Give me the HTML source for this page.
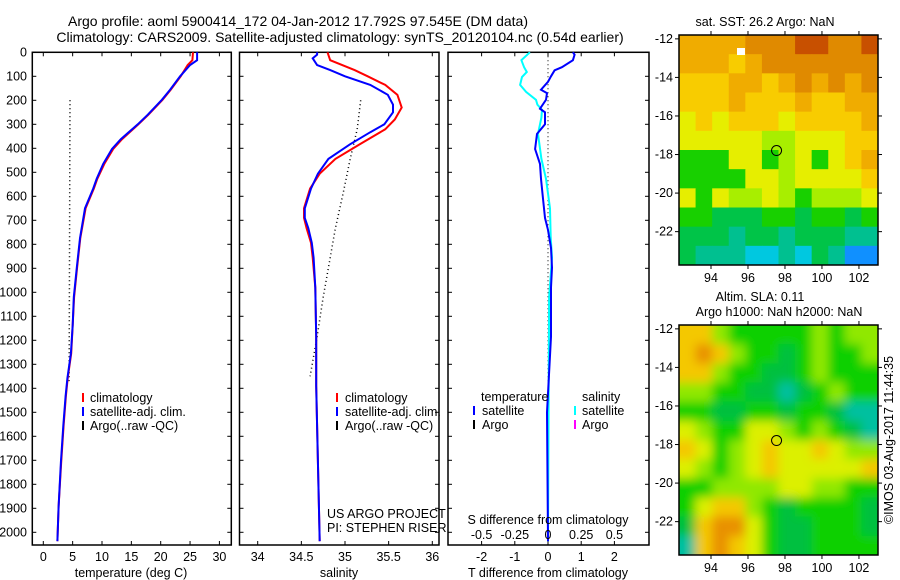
<!DOCTYPE html>
<html><head><meta charset="utf-8">
<style>
html,body{margin:0;padding:0;background:#fff;}
svg{display:block;font-family:"Liberation Sans",sans-serif;}
text{font-size:12.5px;fill:#000;}
text.ttl{font-size:14px;}
</style></head>
<body>
<svg id="c" width="900" height="580" viewBox="0 0 900 580">
<text class="ttl" x="298" y="26" text-anchor="middle">Argo profile: aoml 5900414_172 04-Jan-2012 17.792S 97.545E (DM data)</text>
<text class="ttl" x="340" y="42" text-anchor="middle">Climatology: CARS2009. Satellite-adjusted climatology: synTS_20120104.nc (0.54d earlier)</text>
<g id="p1"></g>
<g id="p2"></g>
<g id="p3"></g>
<g id="m1"></g>
<g id="m2"></g>
<text transform="translate(893,440) rotate(-90)" text-anchor="middle">©IMOS 03-Aug-2017 11:44:35</text>
<defs><filter id="blur" x="0" y="0" width="1" height="1"><feGaussianBlur stdDeviation="5"/></filter>
<clipPath id="cm2"><rect x="679" y="325" width="199" height="230"/></clipPath></defs>
</svg>
<script>
// ---- data ----
const tDepth=[0,33,53,100,156,198,260,300,362,403,465,527,568,650,774,897,1020,1136,1255,1358,1432,1556,1708,1893,2037];
const tSat=[26.2,26.2,25.0,23.3,21.6,20.2,17.8,16.1,13.2,11.7,10.2,9.1,8.5,7.1,6.25,5.7,5.2,5.0,4.7,4.1,3.8,3.4,3.0,2.6,2.4];
const tClim=[25.5,25.4,24.6,23.4,21.7,20.3,17.9,16.2,13.4,11.9,10.4,9.2,8.6,7.2,6.3,5.75,5.25,5.0,4.75,4.15,3.85,3.45,3.05,2.6,2.4];
const argoTDepth=[200,600,1000,1370];
const argoT=[4.55,4.5,4.45,4.4];
const sDepth=[0,10,25,53,74,100,136,177,218,250,300,333,383,444,506,568,650,690,733,794,856,980,1185,1390,2037];
const sSat=[34.68,34.68,34.63,34.68,34.83,35.0,35.29,35.49,35.55,35.55,35.45,35.29,35.06,34.81,34.69,34.61,34.54,34.54,34.58,34.62,34.64,34.66,34.67,34.67,34.71];
const sClimDepth=[0,33,74,100,136,177,230,280,321,383,444,506,568,650,690,733,794,856,980,1185,1390,2037];
const sClim=[34.8,34.83,35.11,35.26,35.46,35.6,35.65,35.57,35.46,35.17,34.89,34.71,34.6,34.53,34.53,34.56,34.61,34.63,34.66,34.67,34.67,34.71];
const argoSDepth=[200,321,444,584,733,856,1020,1185,1350];
const argoS=[35.18,35.14,35.06,34.98,34.89,34.83,34.75,34.68,34.6];
const dTDepth=[0,10,33,62,75,100,123,156,170,198,235,250,300,340,403,465,527,610,690,740,815,897,980,1185,1500,2037];
const dT=[0.75,0.8,0.75,0.42,0.2,0.09,0,-0.21,-0.03,-0.06,-0.24,-0.09,-0.09,-0.33,-0.39,-0.24,-0.21,-0.15,-0.09,0,0.09,0.12,0.09,0.09,-0.03,0];
const dSDepth=[0,33,62,82,103,136,165,198,218,240,272,300,340,444,527,650,770,856,1020,2037];
const dS=[-0.136,-0.2,-0.18,-0.16,-0.196,-0.21,-0.165,-0.09,-0.08,-0.045,-0.05,-0.06,-0.075,-0.05,-0.015,0.015,0.02,0.03,0.008,0];
const depthTicks=[0,100,200,300,400,500,600,700,800,900,1000,1100,1200,1300,1400,1500,1600,1700,1800,1900,2000];
const tTicks=[0,5,10,15,20,25,30];
const sTicks=[34,34.5,35,35.5,36];
const sTickLabels=['34','34.5','35','35.5','36'];
const dTTicks=[-2,-1,0,1,2];
const dSTicks=[-0.5,-0.25,0,0.25,0.5];
const latTicks=[-12,-14,-16,-18,-20,-22];
const lonTicks=[94,96,98,100,102];
const sstGrid=["ooooOOORROOR","oooYoOOOOOOO","YYYooYoOoOoO","YYYoYYYoYYoo","yYyYYYyYYYYo","yyyyyggyyyYY","GGGyyGgyGyYo","GGGGyygyyyyY","yGyggygGgggy","GGEEEGGEGGEG","EEETEETEEETT","ETTTCCTCETBB"];
const slaGrid=["YYgGGGGGgGgg","YOYgGGEGgGGg","YYgGGEEGgGGG","ggGGEETEGgGG","GGEEGGEGGETT","ygGGyygGgGET","YyGgyYyyYygg","ygGgyYyyyyyY","GGggggyyggGG","GyYYgGEGGGGE","EYOOyGEEGGGE","TYOYyGEEGGGG"];
const argoLon=97.545, argoLat=-17.792;
// ---- helpers ----
const NS='http://www.w3.org/2000/svg';
function mk(parent,tag,attrs){const e=document.createElementNS(NS,tag);for(const k in attrs)e.setAttribute(k,attrs[k]);parent.appendChild(e);return e;}
const Y0=52.3, PXD=0.24, YB=545;
const yD=d=>Y0+d*PXD;
function panel(g,x0,x1){
  const r=mk(g,'rect',{x:x0,y:Y0,width:x1-x0,height:YB-Y0,fill:'none',stroke:'#000','stroke-width':1.5});
  
  
  depthTicks.forEach(d=>{const y=yD(d);
    mk(g,'line',{x1:x0,x2:x0+4,y1:y,y2:y,stroke:'#000'});
    mk(g,'line',{x1:x1-4,x2:x1,y1:y,y2:y,stroke:'#000'});});
}
function xticks(g,vals,fx){vals.forEach(v=>{const x=fx(v);
  mk(g,'line',{x1:x,x2:x,y1:YB,y2:YB-4,stroke:'#000'});
  mk(g,'line',{x1:x,x2:x,y1:Y0,y2:Y0+4,stroke:'#000'});});}
function line(g,ds,vs,fx,color,name,w){
  const pts=ds.map((d,i)=>fx(vs[i]).toFixed(1)+','+yD(d).toFixed(1)).join(' ');
  const p=mk(g,'polyline',{points:pts,fill:'none',stroke:color,'stroke-width':w||2,'stroke-dasharray':color==='#000'?'1,3':'none'});
  
  
}
function txt(g,x,y,s,anchor,name){const t=mk(g,'text',{x:x,y:y,'text-anchor':anchor||'start'});t.textContent=s;
  
  return t;}
function legBar(g,x,y,c){mk(g,'line',{x1:x,x2:x,y1:y-10,y2:y-1,stroke:c,'stroke-width':2});}
// ---- panel 1: temperature ----
const p1=document.getElementById('p1');
const fxT=v=>43.3+v*5.87;
panel(p1,32.3,231.3); xticks(p1,tTicks,fxT);
depthTicks.forEach(d=>txt(p1,27,yD(d)+4,String(d),'end','y-tick-label'));
tTicks.forEach(v=>txt(p1,fxT(v),561,String(v),'middle','x-tick-label'));
txt(p1,131,577,'temperature (deg C)','middle','x-axis-title');
line(p1,argoTDepth,argoT,fxT,'#000','argo-temperature-line',1.5);
line(p1,tDepth,tClim,fxT,'#f00','climatology-temperature-line');
line(p1,tDepth,tSat,fxT,'#00f','satellite-temperature-line');
legBar(p1,83,403,'#f00');legBar(p1,83,417,'#00f');legBar(p1,83,431,'#000');
txt(p1,90,402,'climatology','start','legend-climatology');
txt(p1,90,416,'satellite-adj. clim.','start','legend-satellite');
txt(p1,90,430,'Argo(..raw -QC)','start','legend-argo');
// ---- panel 2: salinity ----
const p2=document.getElementById('p2');
const fxS=v=>257.7+(v-34)*87.3;
panel(p2,239.5,439); xticks(p2,sTicks,fxS);
sTicks.forEach((v,i)=>txt(p2,fxS(v),561,sTickLabels[i],'middle','x-tick-label'));
txt(p2,339,577,'salinity','middle','x-axis-title');
line(p2,argoSDepth,argoS,fxS,'#000','argo-salinity-line',1.5);
line(p2,sClimDepth,sClim,fxS,'#f00','climatology-salinity-line');
line(p2,sDepth,sSat,fxS,'#00f','satellite-salinity-line');
legBar(p2,337,403,'#f00');legBar(p2,337,417,'#00f');legBar(p2,337,431,'#000');
txt(p2,345,402,'climatology','start','legend-climatology');
txt(p2,345,416,'satellite-adj. clim.','start','legend-satellite');
txt(p2,345,430,'Argo(..raw -QC)','start','legend-argo');
txt(p2,327,518,'US ARGO PROJECT','start','project-label');
txt(p2,327,532,'PI: STEPHEN RISER','start','pi-label');
// ---- panel 3: differences ----
const p3=document.getElementById('p3');
const fxdT=v=>548+v*33.2, fxdS=v=>548+v*132.8;
panel(p3,448,649); xticks(p3,dTTicks,fxdT);
mk(p3,'line',{x1:548,x2:548,y1:Y0,y2:YB,stroke:'#000','stroke-dasharray':'1,3'});
line(p3,dSDepth,dS,fxdS,'#0ff','salinity-difference-line');
line(p3,dTDepth,dT,fxdT,'#00f','temperature-difference-line');
dTTicks.forEach(v=>txt(p3,fxdT(v),561,String(v),'middle','t-tick-label'));
dSTicks.forEach(v=>txt(p3,fxdS(v),539,String(v),'middle','s-tick-label'));
txt(p3,548,524,'S difference from climatology','middle','s-axis-title');
txt(p3,548,577,'T difference from climatology','middle','t-axis-title');
txt(p3,481,401,'temperature','start','legend-temperature-header');
txt(p3,482,415,'satellite','start','legend-t-satellite');
txt(p3,482,429,'Argo','start','legend-t-argo');
txt(p3,582,401,'salinity','start','legend-salinity-header');
txt(p3,582,415,'satellite','start','legend-s-satellite');
txt(p3,582,429,'Argo','start','legend-s-argo');
legBar(p3,474,416,'#00f');legBar(p3,474,430,'#000');legBar(p3,575,416,'#0ff');legBar(p3,575,430,'#f0f');
// ---- maps ----
const sstCol={R:'#c85000',O:'#e08a00',o:'#f0ac00',Y:'#f8cc00',y:'#e6ee00',g:'#a8ee00',G:'#18d000',E:'#00c448',T:'#00c090',C:'#00c8e0',B:'#1090ff'};
const slaCol={Y:'#f4c800',O:'#e89000',y:'#dcf000',g:'#90e800',G:'#10d000',E:'#00c040',T:'#00c0a0'};
function map(id,top,grid,cols,blur,titles){
  const g=document.getElementById(id);
  const x0=679,x1=878,y0=top,y1=top+230;
  const lonL=92.27,lonR=103.03,latT=-11.8,latB=-23.73;
  const fx=v=>x0+(v-lonL)/(lonR-lonL)*(x1-x0), fy=v=>y0+(latT-v)/(latT-latB)*(y1-y0);
  const cg=mk(g,'g',blur?{filter:'url(#blur)','clip-path':'url(#cm2)'}:{});
  const nr=grid.length,nc=grid[0].length,cw=(x1-x0)/nc,ch=(y1-y0)/nr;
  const pad=blur?12:0;
  grid.forEach((row,r)=>{[...row].forEach((k,c)=>{
    let x=x0+c*cw,y=y0+r*ch,w=cw+0.5,h=ch+0.5;
    if(blur){if(c===0){x-=pad;w+=pad;}if(c===nc-1)w+=pad;if(r===0){y-=pad;h+=pad;}if(r===nr-1)h+=pad;}
    mk(cg,'rect',{x:x,y:y,width:w,height:h,fill:cols[k]});});});
  mk(g,'rect',{x:x0,y:y0,width:x1-x0,height:y1-y0,fill:'none',stroke:'#000','stroke-width':1.5});
  latTicks.forEach(v=>{const y=fy(v);mk(g,'line',{x1:x0-4,x2:x0,y1:y,y2:y,stroke:'#000'});mk(g,'line',{x1:x1,x2:x1+4,y1:y,y2:y,stroke:'#000'});
    txt(g,673,y+4,String(v),'end','lat-tick-label');});
  lonTicks.forEach(v=>{const x=fx(v);mk(g,'line',{x1:x,x2:x,y1:y1,y2:y1+4,stroke:'#000'});mk(g,'line',{x1:x,x2:x,y1:y0-4,y2:y0,stroke:'#000'});
    txt(g,x,y1+17,String(v),'middle','lon-tick-label');});
  const c=mk(g,'circle',{cx:fx(argoLon),cy:fy(argoLat),r:5,fill:'none',stroke:'#000','stroke-width':1});
  
  
  titles.forEach((t,i)=>txt(g,t[1],t[2],t[0],'middle','map-title'));
}
map('m1',35,sstGrid,sstCol,false,[['sat. SST: 26.2 Argo: NaN',765,26]]);
mk(document.getElementById('m1'),'rect',{x:737,y:48,width:8,height:7,fill:'#fff'});
map('m2',325,slaGrid,slaCol,true,[['Altim. SLA: 0.11',760,301],['Argo h1000: NaN h2000: NaN',779,316]]);
</script>
</body></html>
